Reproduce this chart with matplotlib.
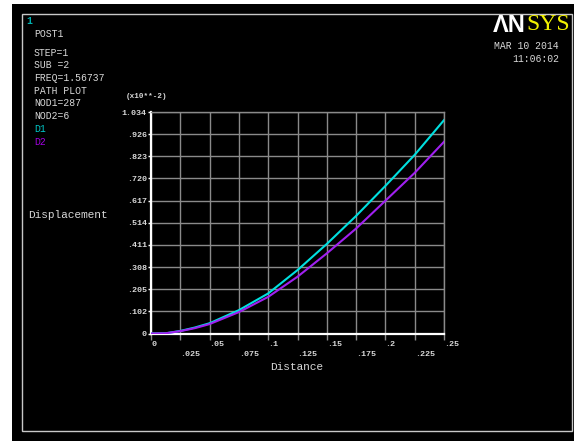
import numpy as np
import matplotlib
matplotlib.use("Agg")
from matplotlib import pyplot as plt
from matplotlib.patches import Rectangle

# Path plot data (values in x10**-2)
distance = [0, 0.0125, 0.025, 0.0375, 0.05, 0.075, 0.1, 0.125, 0.15, 0.175, 0.2, 0.225, 0.25]
d1 = [0, 0.001, 0.012, 0.028, 0.048, 0.109, 0.187, 0.296, 0.418, 0.549, 0.689, 0.834, 0.996]
d2 = [0, 0.001, 0.011, 0.025, 0.044, 0.100, 0.171, 0.265, 0.374, 0.490, 0.620, 0.750, 0.895]

y_max = 1.034
y_tick_labels = ["0", ".102", ".205", ".308", ".411", ".514", ".617", ".720", ".823", ".926", "1.034"]
x_ticks = [0, 0.025, 0.05, 0.075, 0.1, 0.125, 0.15, 0.175, 0.2, 0.225, 0.25]
x_tick_labels = ["0", ".025", ".05", ".075", ".1", ".125", ".15", ".175", ".2", ".225", ".25"]

header = ["POST1", "", "STEP=1", "SUB =2", "FREQ=1.56737", "PATH PLOT", "NOD1=287", "NOD2=6"]

W, H = 574, 441
mono = "Liberation Mono"
txt_col = "#d8d8d8"
c_d1 = "#00e0e0"
c_d2 = "#a020f0"
grid_col = "#8a8a8a"


def fx(px):
    return px / W


def fy(py):
    return 1 - py / H


fig = plt.figure(figsize=(W / 100, H / 100), dpi=100, facecolor="white")

# black window and its border
fig.add_artist(Rectangle((fx(12), 0), fx(W - 12), fy(4), transform=fig.transFigure,
                         facecolor="black", edgecolor="none", zorder=0))
fig.add_artist(Rectangle((fx(22), fy(431)), fx(572 - 22), (431 - 14) / H, transform=fig.transFigure,
                         facecolor="none", edgecolor="#c8c8c8", linewidth=1.0, zorder=1))

ax = fig.add_axes([fx(151), fy(333.5), fx(444 - 151), (333.5 - 112) / H])
ax.set_facecolor("black")
ax.plot(distance, d1, color=c_d1, linewidth=1.5, zorder=3)
ax.plot(distance, d2, color=c_d2, linewidth=1.5, zorder=4)

ax.set_xlim(0, 0.25)
ax.set_ylim(0, y_max)
ax.set_xticks(x_ticks)
ax.set_xticklabels([])
ax.set_yticks(np.linspace(0, y_max, 11))
ax.set_yticklabels(y_tick_labels, fontfamily=mono, fontsize=6, color=txt_col, fontweight="bold")
ax.tick_params(axis="x", length=4, width=1, color=grid_col, direction="out")
ax.tick_params(axis="y", length=2, width=1, color="white", pad=1)
ax.grid(True, color=grid_col, linewidth=1.0, zorder=1)
for side in ["top", "right"]:
    ax.spines[side].set_color(grid_col)
    ax.spines[side].set_linewidth(1.0)
for side in ["left", "bottom"]:
    ax.spines[side].set_color("white")
    ax.spines[side].set_linewidth(1.6)

# staggered x tick labels
for i, (xv, lab) in enumerate(zip(x_ticks, x_tick_labels)):
    row = 344.5 if i % 2 == 0 else 354.5
    ax.text(xv, fy(row), lab, transform=ax.get_xaxis_transform().__class__(ax.transData, fig.transFigure),
            ha="left", va="center", fontfamily=mono, fontsize=6, color=txt_col, fontweight="bold")

fig.text(fx(297), fy(367), "Distance", ha="center", va="center", fontfamily=mono, fontsize=8, color=txt_col)
fig.text(fx(28), fy(215), "Displacement", ha="left", va="center", fontfamily=mono, fontsize=8, color=txt_col)
fig.text(fx(146.5), fy(96), "(x10**-2)", ha="center", va="center", fontfamily=mono, fontsize=5.5,
         color=txt_col, fontweight="bold")

# header block
fig.text(fx(26), fy(21), "1", ha="left", va="center", fontfamily=mono, fontsize=7, color="#00b0b0",
         fontweight="bold")
y0 = 33.7
for i, line in enumerate(header):
    if line:
        fig.text(fx(34), fy(y0 + i * 11.5 if i < 2 else 52.7 + (i - 2) * 12.7), line, ha="left", va="center",
                 fontfamily=mono, fontsize=7, color=txt_col)
fig.text(fx(34), fy(129), "D1", ha="left", va="center", fontfamily=mono, fontsize=7, color="#00c8c8")
fig.text(fx(34), fy(141.7), "D2", ha="left", va="center", fontfamily=mono, fontsize=7, color="#a000e0")

# logo and time stamp
fig.text(fx(526), fy(25), "ΛN", ha="right", va="center", fontfamily="Liberation Sans", fontsize=17,
         fontweight="bold", color="white")
fig.text(fx(526), fy(25), "SYS", ha="left", va="center", fontfamily="Liberation Serif", fontsize=17,
         color="#f0f000")
fig.text(fx(559), fy(46), "MAR 10 2014", ha="right", va="center", fontfamily=mono, fontsize=7, color=txt_col)
fig.text(fx(559), fy(59.5), "11:06:02", ha="right", va="center", fontfamily=mono, fontsize=7, color=txt_col)

fig.savefig("out.png", dpi=100, facecolor="white")
